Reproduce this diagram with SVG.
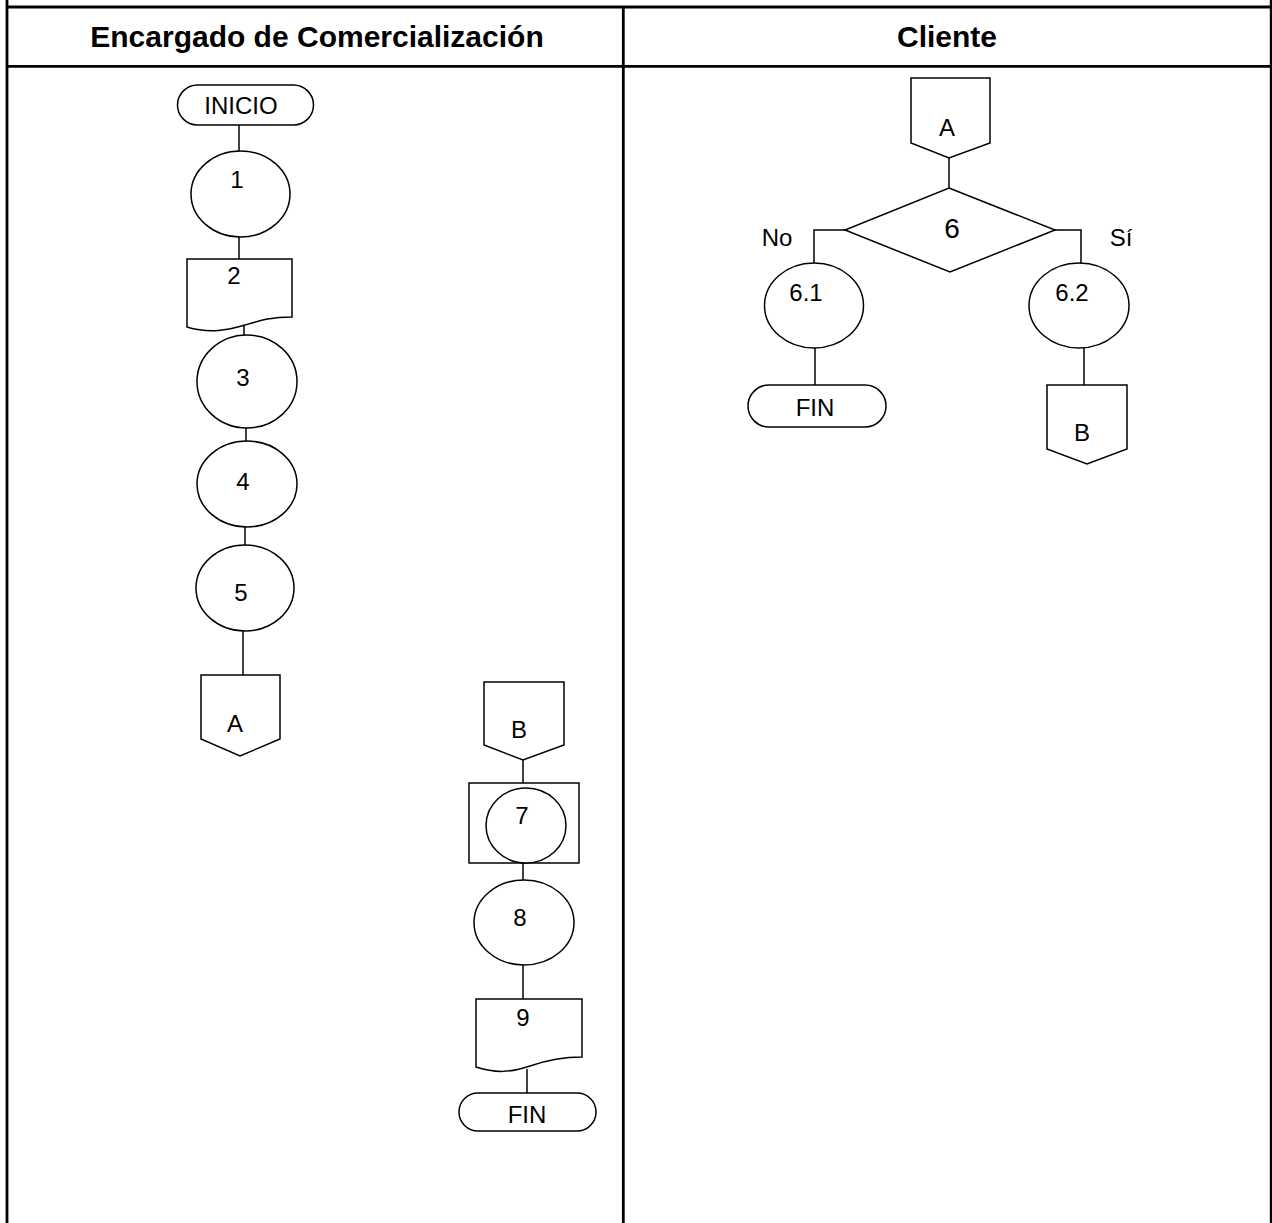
<svg xmlns="http://www.w3.org/2000/svg" width="1272" height="1223" viewBox="0 0 1272 1223">
<style>
.frame{stroke:#000;stroke-width:2.8;fill:none}
.s{stroke:#000;stroke-width:1.5;fill:#fff}
.c{stroke:#000;stroke-width:1.5;fill:none}
.h{font-family:"Liberation Sans",Arial,sans-serif;font-weight:bold;font-size:30px;text-anchor:middle;fill:#000}
.t{font-family:"Liberation Sans",Arial,sans-serif;font-size:24px;text-anchor:middle;fill:#000}
.big{font-family:"Liberation Sans",Arial,sans-serif;font-size:28px;text-anchor:middle;fill:#000}
</style>
<rect width="1272" height="1223" fill="#fff"/>
<g id="table">
<line class="frame" x1="7" y1="0" x2="7" y2="1223"/>
<line class="frame" x1="623.3" y1="7" x2="623.3" y2="1223"/>
<line class="frame" x1="1271.2" y1="0" x2="1271.2" y2="1223"/>
<line class="frame" x1="7" y1="7" x2="1272" y2="7"/>
<line class="frame" x1="7" y1="66.3" x2="1272" y2="66.3"/>
<text class="h" x="317" y="47">Encargado de Comercialización</text>
<text class="h" x="947" y="47">Cliente</text>
</g>
<g id="connectors">
<line class="c" x1="239" y1="125" x2="239" y2="151"/>
<line class="c" x1="239" y1="237" x2="239" y2="259"/>
<line class="c" x1="244" y1="326" x2="244" y2="335"/>
<line class="c" x1="246" y1="428" x2="246" y2="441"/>
<line class="c" x1="245" y1="527" x2="245" y2="545"/>
<line class="c" x1="243" y1="631" x2="243" y2="675"/>
<line class="c" x1="523" y1="760" x2="523" y2="783"/>
<line class="c" x1="523" y1="863" x2="523" y2="880"/>
<line class="c" x1="523" y1="965" x2="523" y2="999"/>
<line class="c" x1="527" y1="1069" x2="527" y2="1093"/>
<line class="c" x1="949" y1="158" x2="949" y2="188"/>
<polyline class="c" points="845,230 814,230 814,263"/>
<polyline class="c" points="1055,230 1081,230 1081,263"/>
<line class="c" x1="815" y1="348" x2="815" y2="385"/>
<line class="c" x1="1084" y1="348" x2="1084" y2="385"/>
<text class="t" x="777" y="246">No</text>
<text class="t" x="1121" y="246">Sí</text>
</g>
<g id="inicio">
<rect class="s" x="177.5" y="85" width="136" height="40" rx="20"/>
<text class="t" x="241" y="114">INICIO</text>
</g>
<g id="n1">
<ellipse class="s" cx="240.5" cy="194" rx="49.5" ry="43"/>
<text class="t" x="237" y="188">1</text>
</g>
<g id="n2">
<path class="s" d="M187,259 H292 V317 C272,317 262,320 245,325 C228,330 210,334 187,327 Z"/>
<text class="t" x="234" y="284">2</text>
</g>
<g id="n3">
<ellipse class="s" cx="247" cy="381.5" rx="50" ry="46.5"/>
<text class="t" x="243" y="386">3</text>
</g>
<g id="n4">
<ellipse class="s" cx="247" cy="484" rx="50" ry="43"/>
<text class="t" x="243" y="490">4</text>
</g>
<g id="n5">
<ellipse class="s" cx="245" cy="588" rx="49" ry="43"/>
<text class="t" x="241" y="601">5</text>
</g>
<g id="offA">
<path class="s" d="M201,675 H280 V739 L240,756 L201,739 Z"/>
<text class="t" x="235" y="732">A</text>
</g>
<g id="onB">
<path class="s" d="M484,682 H564 V745 L523,760 L484,745 Z"/>
<text class="t" x="519" y="738">B</text>
</g>
<g id="n7">
<rect class="s" x="469" y="783" width="110" height="80"/>
<ellipse class="s" cx="526" cy="825.5" rx="40" ry="37.5"/>
<text class="t" x="522" y="824">7</text>
</g>
<g id="n8">
<ellipse class="s" cx="524" cy="922.5" rx="50" ry="42.5"/>
<text class="t" x="520" y="926">8</text>
</g>
<g id="n9">
<path class="s" d="M476,999 H582 V1057 C565,1057 550,1059 530,1066 C510,1073 495,1073 476,1067 Z"/>
<text class="t" x="523" y="1026">9</text>
</g>
<g id="fin1">
<rect class="s" x="459" y="1093" width="137" height="38" rx="19"/>
<text class="t" x="527" y="1123">FIN</text>
</g>
<g id="onA">
<path class="s" d="M911,78 H990 V143 L949,158 L911,143 Z"/>
<text class="t" x="947" y="136">A</text>
</g>
<g id="n6">
<polygon class="s" points="949,188 1055,230 950,272 845,230"/>
<text class="big" x="952" y="238">6</text>
</g>
<g id="n61">
<ellipse class="s" cx="814" cy="305.5" rx="49.5" ry="42.5"/>
<text class="t" x="806" y="301">6.1</text>
</g>
<g id="n62">
<ellipse class="s" cx="1079" cy="305.5" rx="50" ry="42.5"/>
<text class="t" x="1072" y="301">6.2</text>
</g>
<g id="fin2">
<rect class="s" x="748" y="385" width="138" height="42" rx="21"/>
<text class="t" x="815" y="416">FIN</text>
</g>
<g id="offB">
<path class="s" d="M1047,385 H1127 V449 L1087,464 L1047,449 Z"/>
<text class="t" x="1082" y="441">B</text>
</g>
</svg>
